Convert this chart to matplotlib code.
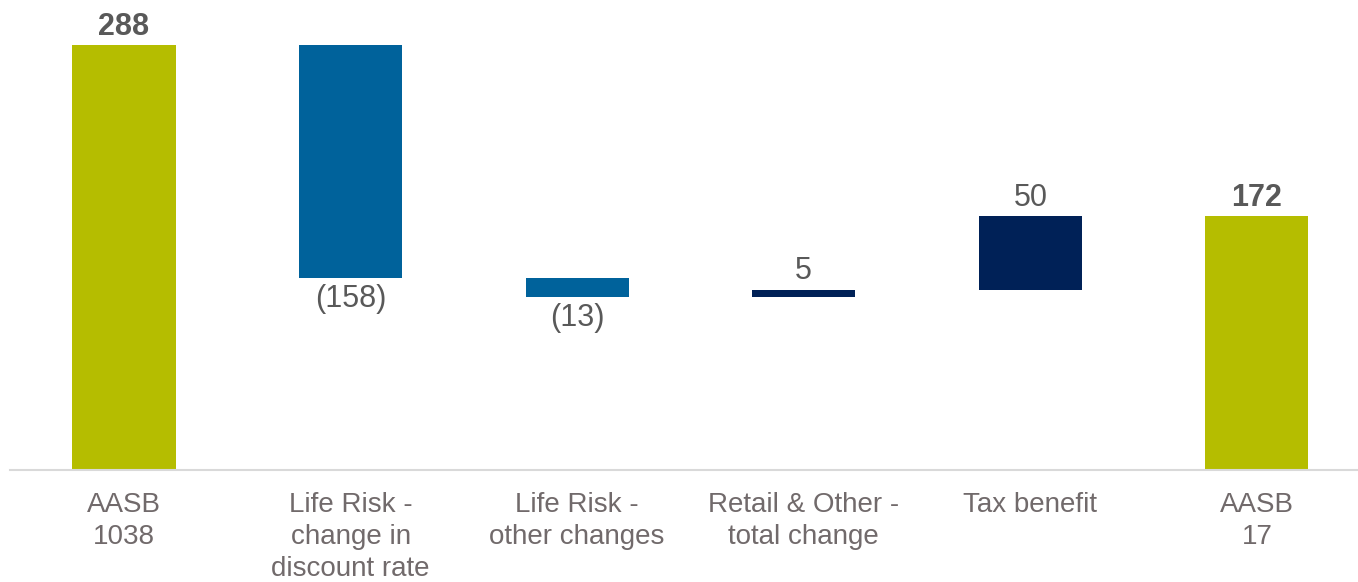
import numpy as np
from matplotlib import pyplot as plt

plt.rcParams.update({
    'font.family': ['Liberation Sans', 'DejaVu Sans'],
})

categories = ['AASB\n1038', 'Life Risk -\nchange in\ndiscount rate', 'Life Risk -\nother changes',
              'Retail & Other -\ntotal change', 'Tax benefit', 'AASB\n17']
values = [288, -158, -13, 5, 50, 172]
is_total = [True, False, False, False, False, True]
value_labels = ['288', '(158)', '(13)', '5', '50', '172']

green = '#B5BD00'
blue = '#00629B'
navy = '#002157'

# waterfall geometry
running = 0
bottoms, heights, colors = [], [], []
for v, tot in zip(values, is_total):
    if tot:
        bottoms.append(0)
        heights.append(v)
        colors.append(green)
        running = v
    else:
        if v < 0:
            bottoms.append(running + v)
            colors.append(blue)
        else:
            bottoms.append(running)
            colors.append(navy)
        heights.append(abs(v))
        running += v

x = np.arange(len(categories))
fig = plt.figure(figsize=(13.58, 5.82), dpi=100)
ax = fig.add_axes([10 / 1358, 1 - 470 / 582, 1 - 10 / 1358, 470 / 582])
ax.bar(x, heights, bottom=bottoms, width=0.455, color=colors, zorder=2)

for i, (v, tot) in enumerate(zip(values, is_total)):
    top = bottoms[i] + heights[i]
    weight = 'bold' if tot else 'normal'
    if v < 0:
        ax.annotate(value_labels[i], (x[i], bottoms[i]), xytext=(0, -4), textcoords='offset points',
                    ha='center', va='top', fontsize=22, color='#595959')
    else:
        ax.annotate(value_labels[i], (x[i], top), xytext=(0, 2.5), textcoords='offset points',
                    ha='center', va='bottom', fontsize=22, color='#595959', fontweight=weight)

ax.set_xlim(-0.503, 5.446)
ax.set_ylim(0, 318.5)
ax.set_xticks(x)
ax.set_xticklabels(categories, fontsize=20, color='#716A6B', linespacing=1.3)
ax.tick_params(axis='x', length=0, pad=16)
ax.set_yticks([])
for s in ['top', 'right', 'left']:
    ax.spines[s].set_visible(False)
ax.spines['bottom'].set_color('#D9D9D9')
ax.spines['bottom'].set_linewidth(1.5)

fig.savefig('out.png', dpi=100)
